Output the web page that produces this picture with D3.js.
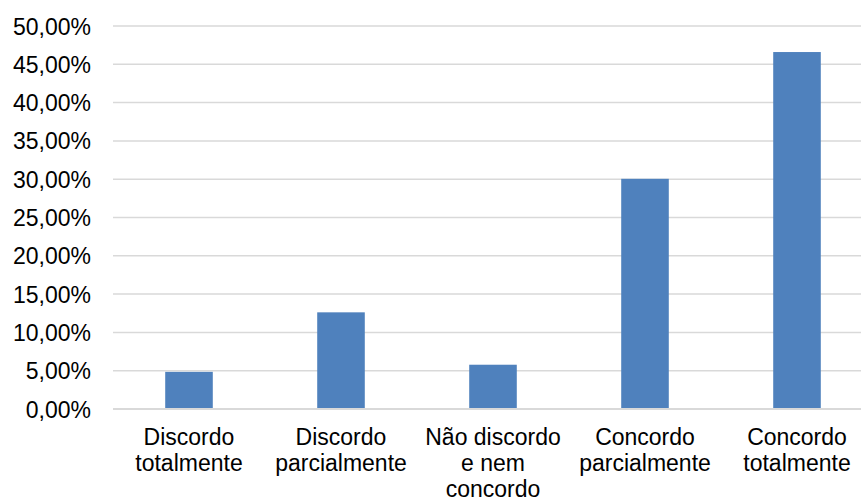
<!DOCTYPE html>
<html>
<head>
<meta charset="utf-8">
<script src="https://cdn.jsdelivr.net/npm/d3@7"></script>
<style>
  html, body { margin: 0; padding: 0; background: #fff; }
  text { font-family: "Liberation Sans", Arial, sans-serif; fill: #000; }
</style>
</head>
<body>
<svg id="chart" width="861" height="502"></svg>
<script>
const categories = ["Discordo totalmente", "Discordo parcialmente", "Não discordo e nem concordo", "Concordo parcialmente", "Concordo totalmente"];
const categoryLines = [["Discordo", "totalmente"], ["Discordo", "parcialmente"], ["Não discordo", "e nem", "concordo"], ["Concordo", "parcialmente"], ["Concordo", "totalmente"]];
const values = [4.85, 12.62, 5.78, 30.05, 46.6];
const yTicks = [0, 5, 10, 15, 20, 25, 30, 35, 40, 45, 50];

const svg = d3.select("#chart");
const x = d3.scaleBand().domain(categories).range([113, 873]).padding(0);
const y = d3.scaleLinear().domain([0, 50]).range([409, 26]);
const barFrac = 0.313;
const fontSize = 23;
const fmt = v => v.toFixed(2).replace(".", ",") + "%";

// gridlines
svg.append("g").selectAll("line").data(yTicks).join("line")
  .attr("x1", 113).attr("x2", 861)
  .attr("y1", d => y(d)).attr("y2", d => y(d))
  .attr("stroke", "#d9d9d9").attr("stroke-width", 1.5);

// y axis labels
const yAxis = d3.axisLeft(y).tickValues(yTicks).tickFormat(fmt).tickSize(0).tickPadding(0);
const gy = svg.append("g").attr("transform", "translate(91,0)").call(yAxis);
gy.select(".domain").remove();
gy.selectAll("text").attr("font-size", fontSize).attr("font-family", "Liberation Sans, Arial, sans-serif").attr("fill", "#000").attr("dy", "0.35em");

// bars
svg.append("g").selectAll("rect").data(values).join("rect")
  .attr("x", (d, i) => x(categories[i]) + x.bandwidth() * (1 - barFrac) / 2)
  .attr("width", x.bandwidth() * barFrac)
  .attr("y", d => y(d))
  .attr("height", d => y(0) - y(d))
  .attr("fill", "#4f81bd");

// baseline
svg.append("line").attr("x1", 113).attr("x2", 861).attr("y1", y(0)).attr("y2", y(0))
  .attr("stroke", "#d9d9d9").attr("stroke-width", 2);

// x labels
const gx = svg.append("g");
categories.forEach((c, i) => {
  const t = gx.append("text")
    .attr("x", x(c) + x.bandwidth() / 2)
    .attr("y", 445)
    .attr("text-anchor", "middle")
    .attr("font-size", fontSize);
  categoryLines[i].forEach((ln, j) => {
    t.append("tspan").attr("x", x(c) + x.bandwidth() / 2).attr("y", 445 + j * 26).text(ln);
  });
});
</script>
</body>
</html>
